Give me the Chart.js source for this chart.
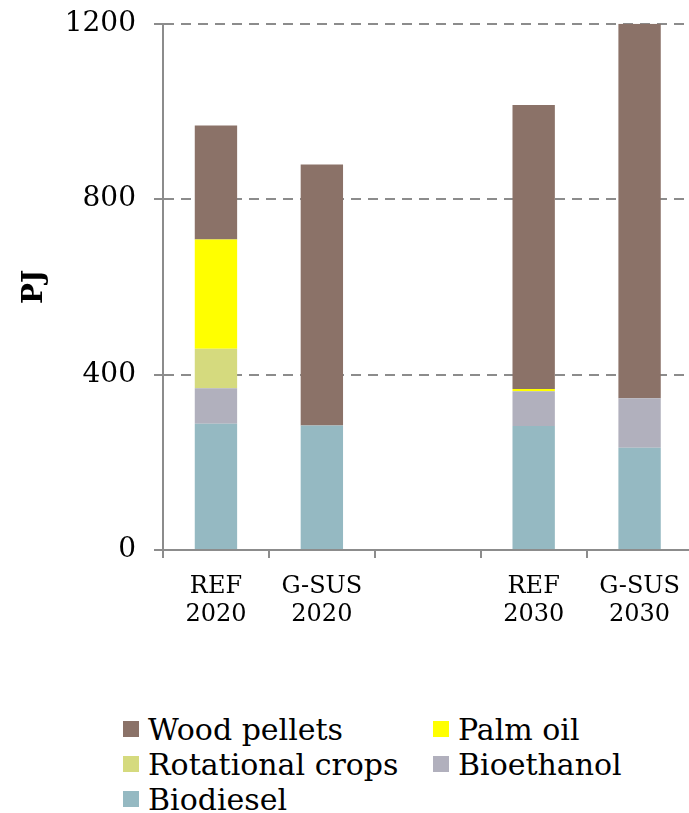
<!DOCTYPE html>
<html>
<head>
<meta charset="utf-8">
<script src="https://cdn.jsdelivr.net/npm/chart.js@4"></script>
<style>
  body { margin: 0; background: #fff; }
  #wrap { position: relative; width: 689px; height: 813px; overflow: hidden; }
  #box { position: absolute; left: 0; top: -11px; width: 694px; height: 661px; }
  #legend {
    position: absolute; left: 123px; top: 712px;
    display: grid; grid-template-columns: 310px 250px; row-gap: 1px;
    font-family: "DejaVu Serif", serif; font-size: 30px; color: #000;
  }
  #legend div { display: flex; align-items: center; height: 34px; }
  #legend span { display: inline-block; width: 16px; height: 16px; margin-right: 9px; }
</style>
</head>
<body>
<div id="wrap">
  <div id="box"><canvas id="chart"></canvas></div>
  <div id="legend"></div>
</div>
<script>
// categories (third slot is an intentional gap)
const categories = [['REF', '2020'], ['G-SUS', '2020'], '', ['REF', '2030'], ['G-SUS', '2030']];

// values in PJ, bottom of stack first
const biodiesel = [288, 284, null, 283, 233];
const bioethanol = [81, 0, null, 79, 113];
const rotationalCrops = [90, 0, null, 0, 0];
const palmOil = [249, 0, null, 5, 0];
const woodPellets = [260, 595, null, 648, 854];

const yTicks = [0, 400, 800, 1200];

const series = [
    { label: 'Biodiesel', data: biodiesel, color: '#95b9c2' },
    { label: 'Bioethanol', data: bioethanol, color: '#b1b0bd' },
    { label: 'Rotational crops', data: rotationalCrops, color: '#d5da7e' },
    { label: 'Palm oil', data: palmOil, color: '#ffff00' },
    { label: 'Wood pellets', data: woodPellets, color: '#8b7268' }
];

const legendOrder = ['Wood pellets', 'Palm oil', 'Rotational crops', 'Bioethanol', 'Biodiesel'];

const serif = '"DejaVu Serif", serif';

const chart = new Chart(document.getElementById('chart').getContext('2d'), {
    type: 'bar',
    data: {
        labels: categories,
        datasets: series.map(s => ({
            label: s.label,
            data: s.data,
            backgroundColor: s.color,
            borderWidth: 0,
            barPercentage: 0.4,
            categoryPercentage: 1
        }))
    },
    options: {
        responsive: true,
        maintainAspectRatio: false,
        animation: false,
        layout: { padding: 0 },
        plugins: {
            legend: { display: false },
            tooltip: { enabled: false }
        },
        scales: {
            x: {
                stacked: true,
                offset: true,
                grid: {
                    offset: true,
                    drawOnChartArea: false,
                    color: '#8c8c8c',
                    tickLength: 8,
                    lineWidth: 2
                },
                border: { color: '#8c8c8c', width: 2 },
                ticks: {
                    color: '#000',
                    padding: 14,
                    maxRotation: 0,
                    autoSkip: false,
                    font: { family: serif, size: 24, lineHeight: 1.2 }
                },
                afterFit: scale => { scale.height = 100; }
            },
            y: {
                stacked: true,
                min: 0,
                max: 1200,
                afterBuildTicks: scale => { scale.ticks = yTicks.map(v => ({ value: v })); },
                grid: {
                    color: '#8c8c8c',
                    lineWidth: 2,
                    tickBorderDash: [1, 0],
                    tickLength: 9,
                    tickColor: '#8c8c8c'
                },
                border: { color: '#8c8c8c', width: 2, dash: [10, 7] },
                ticks: {
                    color: '#000',
                    padding: 18,
                    font: { family: serif, size: 28 },
                    callback: v => String(v)
                },
                title: {
                    display: true,
                    text: 'PJ',
                    color: '#000',
                    padding: { top: 18, bottom: 0 },
                    font: { family: serif, size: 28, weight: 'bold' }
                },
                afterFit: scale => { scale.width = 163; }
            }
        }
    }
});

// HTML legend in two columns, built from the datasets
const legendEl = document.getElementById('legend');
legendOrder.forEach(name => {
    const s = series.find(x => x.label === name);
    const item = document.createElement('div');
    item.innerHTML = '<span style="background:' + s.color + '"></span>' + s.label;
    legendEl.appendChild(item);
});
</script>
</body>
</html>
